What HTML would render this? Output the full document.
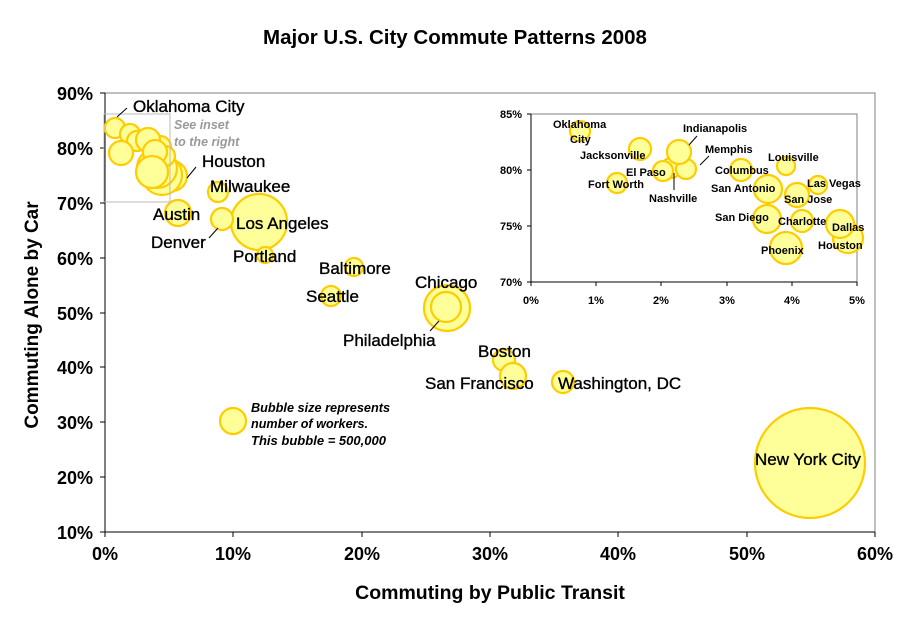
<!DOCTYPE html>
<html><head><meta charset="utf-8"><style>
html,body{margin:0;padding:0;background:#fff;}
svg{display:block;font-family:"Liberation Sans",Arial,sans-serif;}
.b{fill:#FFFF99;stroke:#FFCC00;stroke-width:2.2;}
.t{font-size:17px;font-weight:normal;fill:#000;stroke:#000;stroke-width:0.35;}
.s{font-size:11px;font-weight:bold;fill:#000;}
.ax{font-size:18px;font-weight:bold;fill:#000;}
.ix{font-size:11px;font-weight:bold;fill:#000;}
</style></head><body>
<svg width="911" height="623" viewBox="0 0 911 623">
<rect width="911" height="623" fill="#fff"/>
<text x="455" y="44" text-anchor="middle" style="font-size:20.5px;font-weight:bold">Major U.S. City Commute Patterns 2008</text>
<rect x="105" y="93" width="770" height="439" fill="none" stroke="#808080" stroke-width="1"/>
<line x1="105" y1="93" x2="105" y2="532" stroke="#000"/>
<line x1="105" y1="532" x2="875" y2="532" stroke="#000"/>
<g stroke="#000">
<line x1="100" y1="93" x2="105" y2="93"/><line x1="100" y1="148" x2="105" y2="148"/><line x1="100" y1="203" x2="105" y2="203"/><line x1="100" y1="258" x2="105" y2="258"/><line x1="100" y1="313" x2="105" y2="313"/><line x1="100" y1="367" x2="105" y2="367"/><line x1="100" y1="422" x2="105" y2="422"/><line x1="100" y1="477" x2="105" y2="477"/><line x1="100" y1="532" x2="105" y2="532"/>
<line x1="105" y1="532" x2="105" y2="537"/><line x1="233" y1="532" x2="233" y2="537"/><line x1="362" y1="532" x2="362" y2="537"/><line x1="490" y1="532" x2="490" y2="537"/><line x1="618" y1="532" x2="618" y2="537"/><line x1="747" y1="532" x2="747" y2="537"/><line x1="875" y1="532" x2="875" y2="537"/>
</g>
<g class="ax" text-anchor="end">
<text x="93" y="100">90%</text><text x="93" y="155">80%</text><text x="93" y="210">70%</text><text x="93" y="265">60%</text><text x="93" y="320">50%</text><text x="93" y="374">40%</text><text x="93" y="429">30%</text><text x="93" y="484">20%</text><text x="93" y="539">10%</text>
</g>
<g class="ax" text-anchor="middle">
<text x="105" y="560">0%</text><text x="233" y="560">10%</text><text x="362" y="560">20%</text><text x="490" y="560">30%</text><text x="618" y="560">40%</text><text x="747" y="560">50%</text><text x="875" y="560">60%</text>
</g>
<text x="490" y="599" text-anchor="middle" style="font-size:19.5px;font-weight:bold">Commuting by Public Transit</text>
<text transform="translate(38,315) rotate(-90)" text-anchor="middle" style="font-size:19px;font-weight:bold">Commuting Alone by Car</text>
<circle class="b" cx="810" cy="463" r="55"/>
<circle class="b" cx="259" cy="222" r="28"/>
<circle class="b" cx="447" cy="308" r="23"/>
<circle class="b" cx="446" cy="307" r="15"/>
<circle class="b" cx="178" cy="213" r="13"/>
<circle class="b" cx="172" cy="176" r="15"/>
<circle class="b" cx="162" cy="175" r="20"/>
<circle class="b" cx="157" cy="168" r="20"/>
<circle class="b" cx="115" cy="128" r="10"/>
<circle class="b" cx="130" cy="134" r="10"/>
<circle class="b" cx="137" cy="141" r="10"/>
<circle class="b" cx="160" cy="147" r="11"/>
<circle class="b" cx="148" cy="140" r="12"/>
<circle class="b" cx="165" cy="156" r="10"/>
<circle class="b" cx="155" cy="152" r="12"/>
<circle class="b" cx="121" cy="153" r="12"/>
<circle class="b" cx="152" cy="172" r="16"/>
<circle class="b" cx="218" cy="192" r="10"/>
<circle class="b" cx="222" cy="219" r="11"/>
<circle class="b" cx="265" cy="255" r="8"/>
<circle class="b" cx="354" cy="267" r="9"/>
<circle class="b" cx="331" cy="296" r="10"/>
<circle class="b" cx="504" cy="360" r="11"/>
<circle class="b" cx="513" cy="376" r="13"/>
<circle class="b" cx="563" cy="382" r="11"/>
<circle class="b" cx="233" cy="421" r="13"/>
<rect x="104" y="114" width="66" height="88" fill="none" stroke="#bbb" stroke-width="1"/>
<g stroke="#000" stroke-width="1">
<line x1="117" y1="117" x2="127" y2="108"/>
<line x1="187" y1="178" x2="196" y2="167"/>
<line x1="209" y1="238" x2="218" y2="228"/>
<line x1="430" y1="331" x2="439" y2="321"/>
</g>
<g class="t">
<text x="133" y="112">Oklahoma City</text>
<text x="202" y="167">Houston</text>
<text x="210" y="192">Milwaukee</text>
<text x="153" y="220">Austin</text>
<text x="236" y="229">Los Angeles</text>
<text x="151" y="248">Denver</text>
<text x="233" y="262">Portland</text>
<text x="319" y="274">Baltimore</text>
<text x="306" y="302">Seattle</text>
<text x="415" y="288">Chicago</text>
<text x="343" y="346">Philadelphia</text>
<text x="478" y="357">Boston</text>
<text x="425" y="389">San Francisco</text>
<text x="558" y="389">Washington, DC</text>
<text x="755" y="465">New York City</text>
</g>
<g style="font-size:13px;font-weight:bold;font-style:italic" fill="#000">
<text x="251" y="412" textLength="139" lengthAdjust="spacingAndGlyphs">Bubble size represents</text>
<text x="251" y="428" textLength="117" lengthAdjust="spacingAndGlyphs">number of workers.</text>
<text x="251" y="445" textLength="135" lengthAdjust="spacingAndGlyphs">This bubble = 500,000</text>
</g>
<g style="font-size:12.5px;font-weight:bold;font-style:italic" fill="#999">
<text x="174" y="129">See inset</text>
<text x="174" y="146">to the right</text>
</g>
<rect x="531" y="114" width="326" height="168" fill="#fff" stroke="#808080"/>
<line x1="531" y1="114" x2="531" y2="282" stroke="#000"/>
<line x1="531" y1="282" x2="857" y2="282" stroke="#000"/>
<g stroke="#000">
<line x1="527" y1="114" x2="531" y2="114"/><line x1="527" y1="170" x2="531" y2="170"/><line x1="527" y1="226" x2="531" y2="226"/><line x1="527" y1="282" x2="531" y2="282"/>
<line x1="531" y1="282" x2="531" y2="286"/><line x1="596" y1="282" x2="596" y2="286"/><line x1="661" y1="282" x2="661" y2="286"/><line x1="727" y1="282" x2="727" y2="286"/><line x1="792" y1="282" x2="792" y2="286"/><line x1="857" y1="282" x2="857" y2="286"/>
</g>
<g class="ix" text-anchor="end">
<text x="522" y="118">85%</text><text x="522" y="174">80%</text><text x="522" y="230">75%</text><text x="522" y="286">70%</text>
</g>
<g class="ix" text-anchor="middle">
<text x="531" y="304">0%</text><text x="596" y="304">1%</text><text x="661" y="304">2%</text><text x="727" y="304">3%</text><text x="792" y="304">4%</text><text x="857" y="304">5%</text>
</g>
<circle class="b" cx="580" cy="131" r="10"/>
<circle class="b" cx="640" cy="149" r="11"/>
<circle class="b" cx="617" cy="183" r="10"/>
<circle class="b" cx="671" cy="168" r="10"/>
<circle class="b" cx="663" cy="171" r="10"/>
<circle class="b" cx="686" cy="169" r="10"/>
<circle class="b" cx="679" cy="152" r="12"/>
<circle class="b" cx="741" cy="170" r="11"/>
<circle class="b" cx="786" cy="166" r="9"/>
<circle class="b" cx="818" cy="185" r="9"/>
<circle class="b" cx="768" cy="189" r="14"/>
<circle class="b" cx="797" cy="195" r="12"/>
<circle class="b" cx="767" cy="219" r="14"/>
<circle class="b" cx="802" cy="221" r="11"/>
<circle class="b" cx="786" cy="248" r="16"/>
<circle class="b" cx="848" cy="238" r="15"/>
<circle class="b" cx="840" cy="224" r="14"/>
<g stroke="#000" stroke-width="1">
<line x1="689" y1="145" x2="697" y2="136"/>
<line x1="700" y1="165" x2="709" y2="156"/>
<line x1="674" y1="173" x2="674" y2="190"/>
</g>
<g class="s">
<text x="553" y="128">Oklahoma</text>
<text x="570" y="143">City</text>
<text x="580" y="159">Jacksonville</text>
<text x="588" y="188">Fort Worth</text>
<text x="626" y="176">El Paso</text>
<text x="683" y="132">Indianapolis</text>
<text x="705" y="153">Memphis</text>
<text x="649" y="202">Nashville</text>
<text x="715" y="174">Columbus</text>
<text x="768" y="161">Louisville</text>
<text x="711" y="192">San Antonio</text>
<text x="807" y="187">Las Vegas</text>
<text x="784" y="203">San Jose</text>
<text x="715" y="221">San Diego</text>
<text x="778" y="225">Charlotte</text>
<text x="761" y="254">Phoenix</text>
<text x="832" y="231">Dallas</text>
<text x="818" y="249">Houston</text>
</g>
</svg>
</body></html>
